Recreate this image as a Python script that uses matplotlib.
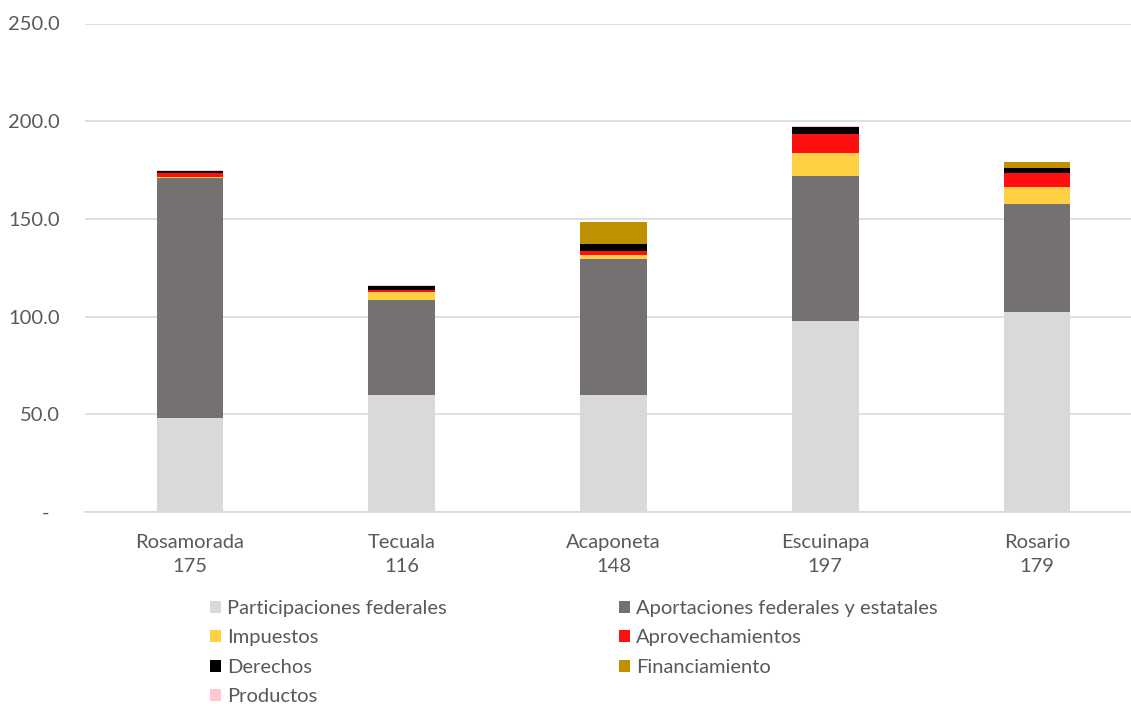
import matplotlib
matplotlib.use("Agg")
import matplotlib.pyplot as plt
from matplotlib.patches import Patch

# Data
municipios = ["Rosamorada", "Tecuala", "Acaponeta", "Escuinapa", "Rosario"]
participaciones = [47.9, 59.7, 59.7, 97.6, 102.2]
aportaciones = [123.1, 48.8, 69.6, 74.1, 55.3]
impuestos = [0.5, 4.2, 2.3, 12.2, 8.9]
aprovechamientos = [1.9, 0.7, 1.9, 9.8, 7.0]
derechos = [1.2, 2.4, 3.4, 3.3, 2.9]
financiamiento = [0.0, 0.0, 11.3, 0.0, 2.7]
productos = [0.3, 0.3, 0.2, 0.3, 0.3]

series = [
    ("Participaciones federales", participaciones, "#d9d9d9"),
    ("Aportaciones federales y estatales", aportaciones, "#767171"),
    ("Impuestos", impuestos, "#ffd044"),
    ("Aprovechamientos", aprovechamientos, "#ff1010"),
    ("Derechos", derechos, "#000000"),
    ("Financiamiento", financiamiento, "#bf9000"),
    ("Productos", productos, "#ffc7ce"),
]

yticks = [0, 50, 100, 150, 200, 250]
ytick_labels = ["-  ", "50.0", "100.0", "150.0", "200.0", "250.0"]

plt.rcParams["font.family"] = ["Lato", "DejaVu Sans"]
text_color = "#595959"
grid_color = "#d9d9d9"

fig = plt.figure(figsize=(11.31, 7.04), dpi=100, facecolor="white")
ax = fig.add_axes([85 / 1131, (704 - 512) / 704, 1 - 85 / 1131, (512 - 23.5) / 704])

x = list(range(len(municipios)))
bottom = [0.0] * len(municipios)
for name, vals, color in series:
    ax.bar(x, vals, width=0.315, bottom=bottom, color=color, label=name, zorder=3)
    bottom = [b + v for b, v in zip(bottom, vals)]

totals = [round(t) for t in bottom]
ax.set_xticks(x)
ax.set_xticklabels([f"{m}\n{t}" for m, t in zip(municipios, totals)],
                   fontsize=14.5, color=text_color, linespacing=1.5)
ax.set_xlim(-0.496, 4.444)

ax.set_ylim(0, 250)
ax.set_yticks(yticks)
ax.set_yticklabels(ytick_labels, fontsize=14.5, color=text_color)

ax.tick_params(axis="both", length=0)
ax.tick_params(axis="y", pad=18)
ax.tick_params(axis="x", pad=16)

ax.grid(axis="y", color=grid_color, linewidth=1.2, zorder=0)
ax.set_axisbelow(True)
for side in ["top", "right", "left"]:
    ax.spines[side].set_visible(False)
ax.spines["bottom"].set_color(grid_color)
ax.spines["bottom"].set_linewidth(1.2)

# Legend: two columns, filled column by column
order = [0, 2, 4, 6, 1, 3, 5]
handles = [Patch(facecolor=series[i][2], edgecolor="none") for i in order]
labels = [series[i][0] for i in order]
leg = fig.legend(handles, labels, ncol=2, frameon=False,
                 loc="upper left", bbox_to_anchor=(210 / 1131, 1 - 600 / 704),
                 fontsize=14.5, handlelength=0.55, handleheight=0.55,
                 handletextpad=0.3, labelspacing=0.62, columnspacing=8.55,
                 borderaxespad=0, borderpad=0)
for t in leg.get_texts():
    t.set_color(text_color)

fig.savefig("out.png", dpi=100, facecolor="white")
